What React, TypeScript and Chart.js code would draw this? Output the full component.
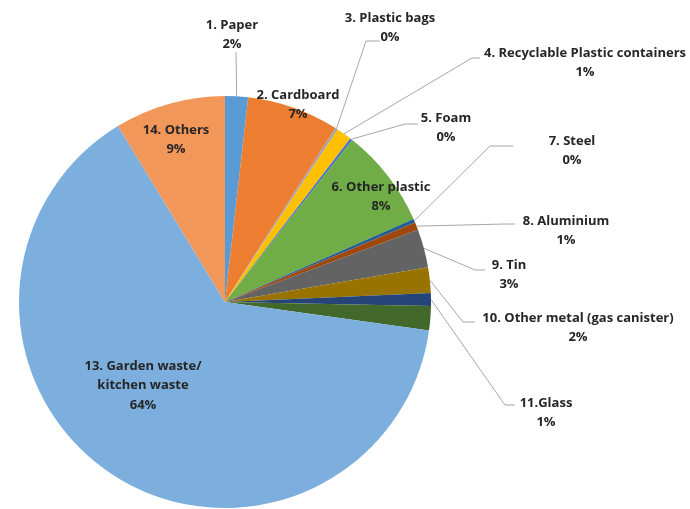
import React, { useEffect, useRef } from "react";
import { Chart, registerables } from "chart.js";

Chart.register(...registerables);

// ---- data ----
const categories: string[] = [
  "1. Paper",
  "2. Cardboard",
  "3. Plastic bags",
  "4. Recyclable Plastic containers",
  "5. Foam",
  "6. Other plastic",
  "7. Steel",
  "8. Aluminium",
  "9. Tin",
  "10. Other metal (gas canister)",
  "11.Glass",
  "12.",
  "13. Garden waste/\nkitchen waste",
  "14. Others",
];

const values: number[] = [1.8, 7.2, 0.2, 1.2, 0.2, 7.8, 0.3, 0.6, 3.0, 2.0, 1.0, 1.9, 64.1, 8.7];

const colors: string[] = [
  "#5B9BD5",
  "#ED7D31",
  "#A5A5A5",
  "#FFC000",
  "#4472C4",
  "#70AD47",
  "#255E91",
  "#9E480E",
  "#636363",
  "#997300",
  "#264478",
  "#43682B",
  "#7CAFDD",
  "#F1975A",
];

// ---- label layout (offsets from pie centre, in px at radius 206) ----
type LabelLayout = {
  mode: "in" | "out" | "none";
  dx: number;
  dy: number;
  leader?: [number, number][];
};

const labelLayout: LabelLayout[] = [
  { mode: "out", dx: 7, dy: -277, leader: [[11, -250]] },
  { mode: "in", dx: 73, dy: -207 },
  { mode: "out", dx: 165, dy: -284, leader: [[141, -261], [155, -261]] },
  { mode: "out", dx: 360, dy: -249, leader: [[247, -244], [255, -244]] },
  { mode: "out", dx: 221, dy: -184, leader: [[180, -178], [193, -178]] },
  { mode: "in", dx: 156, dy: -115 },
  { mode: "out", dx: 347, dy: -161, leader: [[265, -156], [288, -156]] },
  { mode: "out", dx: 341, dy: -81, leader: [[280, -78], [290, -78]] },
  { mode: "out", dx: 284, dy: -37, leader: [[250, -32], [260, -32]] },
  { mode: "out", dx: 353, dy: 16, leader: [[238, 20], [250, 20]] },
  { mode: "out", dx: 321, dy: 101, leader: [[280, 103], [290, 103]] },
  { mode: "none", dx: 0, dy: 0 },
  { mode: "in", dx: -82, dy: 64 },
  { mode: "in", dx: -49, dy: -172 },
];

const FONT = "bold 13px 'Open Sans', Lato, sans-serif";
const TEXT_COLOR = "#262626";
const LEADER_COLOR = "#A6A6A6";
const LINE_H = 19.5;

const labelPlugin = {
  id: "pieLabels",
  afterDatasetsDraw(chart: any) {
    const ctx: CanvasRenderingContext2D = chart.ctx;
    const meta = chart.getDatasetMeta(0);
    const data: number[] = chart.data.datasets[0].data;
    const total = data.reduce((a, b) => a + b, 0);
    ctx.save();
    // leader lines
    ctx.strokeStyle = LEADER_COLOR;
    ctx.lineWidth = 1;
    meta.data.forEach((arc: any, i: number) => {
      const lay = labelLayout[i];
      if (!lay || lay.mode !== "out" || !lay.leader) return;
      const p = arc.getProps(["x", "y", "startAngle", "endAngle", "outerRadius"], true);
      const s = p.outerRadius / 206;
      const mid = (p.startAngle + p.endAngle) / 2;
      ctx.beginPath();
      ctx.moveTo(p.x + Math.cos(mid) * p.outerRadius, p.y + Math.sin(mid) * p.outerRadius);
      lay.leader.forEach(([lx, ly]) => ctx.lineTo(p.x + lx * s, p.y + ly * s));
      ctx.stroke();
    });
    // texts
    ctx.font = FONT;
    ctx.fillStyle = TEXT_COLOR;
    ctx.textAlign = "center";
    ctx.textBaseline = "middle";
    meta.data.forEach((arc: any, i: number) => {
      const lay = labelLayout[i];
      if (!lay || lay.mode === "none") return;
      const p = arc.getProps(["x", "y", "outerRadius"], true);
      const s = p.outerRadius / 206;
      const pct = Math.round((data[i] / total) * 100) + "%";
      const lines = categories[i].split("\n").concat([pct]);
      const x = p.x + lay.dx * s;
      const y0 = p.y + lay.dy * s;
      lines.forEach((t, k) => ctx.fillText(t, x, y0 + k * LINE_H));
    });
    ctx.restore();
  },
};

export default function App() {
  const canvasRef = useRef<HTMLCanvasElement | null>(null);

  useEffect(() => {
    const canvas = canvasRef.current;
    if (!canvas) return;
    const chart = new Chart(canvas, {
      type: "pie",
      data: {
        labels: categories,
        datasets: [
          {
            data: values,
            backgroundColor: colors,
            borderWidth: 0,
          },
        ],
      },
      options: {
        responsive: false,
        maintainAspectRatio: false,
        devicePixelRatio: 1,
        animation: false,
        layout: { padding: { left: 19, right: 259, top: 96, bottom: 1 } },
        plugins: {
          legend: { display: false },
          tooltip: { enabled: false },
          title: { display: false },
        },
      },
      plugins: [labelPlugin],
    });
    return () => chart.destroy();
  }, []);

  return (
    <div
      style={{
        position: "fixed",
        left: 0,
        top: 0,
        width: 690,
        height: 509,
        background: "#ffffff",
      }}
    >
      <canvas ref={canvasRef} width={690} height={509} style={{ width: 690, height: 509 }} />
    </div>
  );
}
